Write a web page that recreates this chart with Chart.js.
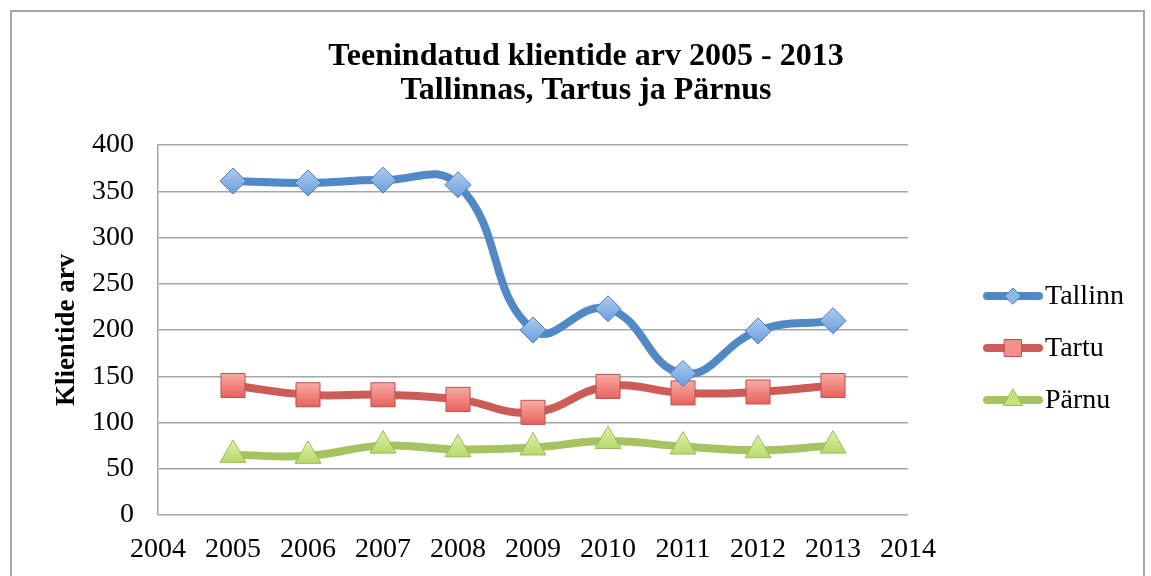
<!DOCTYPE html>
<html>
<head>
<meta charset="utf-8">
<script src="https://cdn.jsdelivr.net/npm/chart.js@4/dist/chart.umd.min.js"></script>
<style>
html, body { margin: 0; padding: 0; background: #fff; overflow: hidden; }
#frame { position: absolute; left: 10px; top: 10px; width: 1131px; height: 640px; border: 2px solid #a6a6a6; }
#wrap { position: absolute; left: 0; top: 0; width: 1151px; height: 576px; }
</style>
</head>
<body>
<div id="frame"></div>
<div id="wrap"><canvas id="myChart" width="1151" height="576" style="width:1151px;height:576px"></canvas></div>
<script>
var years = [2005, 2006, 2007, 2008, 2009, 2010, 2011, 2012, 2013];
var tallinn = [361, 359, 362, 357, 200, 223, 153, 199, 210];
var tartu = [140, 130, 130, 125, 111, 139, 132, 133, 140];
var parnu = [65, 64, 75, 71, 73, 80, 74, 70, 75];
var seriesNames = ['Tallinn', 'Tartu', 'Pärnu'];
var titleLines = ['Teenindatud klientide arv 2005 - 2013', 'Tallinnas, Tartus ja Pärnus'];
var yTitle = 'Klientide arv';

var serif = '"Liberation Serif", "Times New Roman", serif';

function points(vals) {
    return vals.map(function (v, i) { return { x: years[i], y: v }; });
}

// vertical gradient fill for every marker, built from the point's own pixel
function grad(top, bottom, r) {
    return function (ctx) {
        var chart = ctx.chart;
        if (ctx.type !== 'data' || !chart.chartArea || !chart.scales.y) return bottom;
        var y = chart.scales.y.getPixelForValue(ctx.parsed.y);
        var g = chart.ctx.createLinearGradient(0, y - r, 0, y + r);
        g.addColorStop(0, top);
        g.addColorStop(1, bottom);
        return g;
    };
}

var legendFill = ['#8fb5e6', '#f3908b', '#c5e07f'];
var legendRadius = [8, 12, 11];

var sideLegend = {
    id: 'sideLegend',
    afterDraw: function (chart) {
        var c = chart.ctx;
        c.save();
        c.fillStyle = '#000';
        c.textAlign = 'center';
        c.textBaseline = 'middle';
        c.font = 'bold 32px ' + serif;
        c.fillText(titleLines[0], 586, 57);
        c.fillText(titleLines[1], 586, 91);

        chart.data.datasets.forEach(function (ds, i) {
            var y = 296 + i * 52;
            c.strokeStyle = ds.borderColor;
            c.lineWidth = 8;
            c.lineCap = 'round';
            c.beginPath();
            c.moveTo(987, y);
            c.lineTo(1039, y);
            c.stroke();
            c.fillStyle = legendFill[i];
            c.strokeStyle = ds.pointBorderColor;
            c.lineWidth = 1;
            Chart.helpers.drawPoint(c, { pointStyle: ds.pointStyle, radius: legendRadius[i], borderWidth: 1, rotation: 0 }, 1013, y);
            c.fillStyle = '#000';
            c.textAlign = 'left';
            c.font = '28px ' + serif;
            c.fillText(ds.label, 1045, y + 1);
        });
        c.restore();
    }
};

var ctx = document.getElementById('myChart').getContext('2d');

var myChart = new Chart(ctx, {
    type: 'line',
    data: {
        datasets: [{
            label: seriesNames[0],
            data: points(tallinn),
            borderColor: '#5089c6',
            borderWidth: 8,
            pointStyle: 'rectRot',
            pointRadius: 13,
            pointBorderWidth: 1,
            pointBorderColor: '#4a7ebb',
            pointBackgroundColor: grad('#aecbf0', '#6a9edc', 13),
            tension: 0.45
        }, {
            label: seriesNames[1],
            data: points(tartu),
            borderColor: '#cd5c58',
            borderWidth: 8,
            pointStyle: 'rect',
            pointRadius: 17,
            pointBorderWidth: 1,
            pointBorderColor: '#c0504d',
            pointBackgroundColor: grad('#f9aaa6', '#e8625c', 12),
            tension: 0.45
        }, {
            label: seriesNames[2],
            data: points(parnu),
            borderColor: '#a6c261',
            borderWidth: 8,
            pointStyle: 'triangle',
            pointRadius: 15,
            pointBorderWidth: 1,
            pointBorderColor: '#9bbb59',
            pointBackgroundColor: grad('#dcefa3', '#add35b', 13),
            tension: 0.45
        }]
    },
    options: {
        responsive: false,
        animation: false,
        clip: false,
        layout: { padding: { left: 0, right: 243, top: 145, bottom: 0 } },
        plugins: {
            legend: { display: false },
            title: { display: false },
            tooltip: { enabled: false }
        },
        scales: {
            x: {
                type: 'linear',
                min: 2004,
                max: 2014,
                afterFit: function (s) { s.height = 61; },
                grid: { display: false, drawTicks: false },
                border: { display: false },
                ticks: {
                    stepSize: 1,
                    padding: 18,
                    color: '#000',
                    font: { family: serif, size: 28 },
                    callback: function (v) { return String(v); }
                }
            },
            y: {
                min: 0,
                max: 400,
                afterFit: function (s) { s.width = 158; },
                grid: { color: '#a6a6a6', lineWidth: 1.5, drawTicks: false },
                border: { color: '#a6a6a6', width: 1.5 },
                ticks: {
                    stepSize: 50,
                    padding: 24,
                    color: '#000',
                    font: { family: serif, size: 28 }
                },
                title: {
                    display: true,
                    text: yTitle,
                    color: '#000',
                    font: { family: serif, size: 27, weight: 'bold' },
                    padding: { top: 51, bottom: 0 }
                }
            }
        }
    },
    plugins: [sideLegend]
});
</script>
</body>
</html>
